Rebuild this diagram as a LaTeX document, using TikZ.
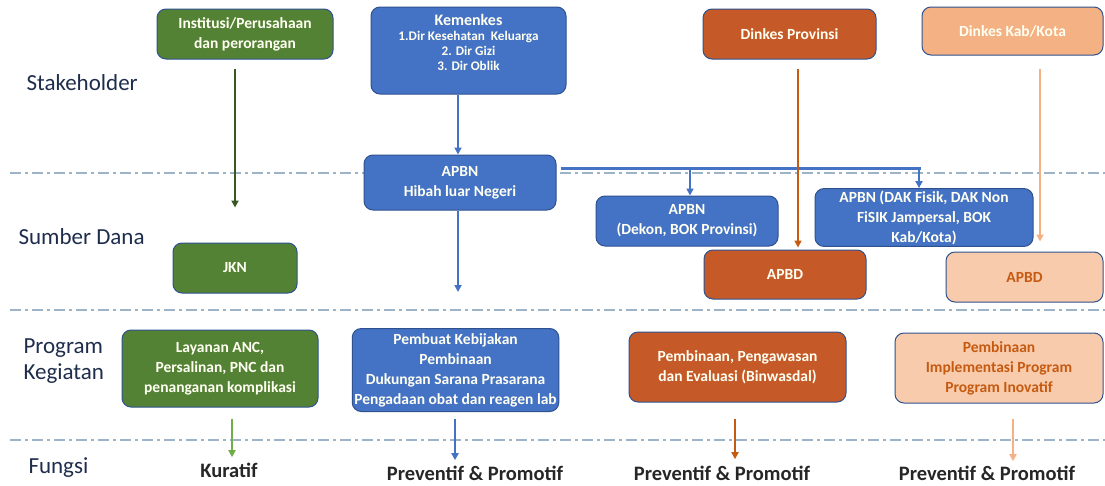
\documentclass[tikz,border=0pt]{standalone}
\usepackage{fontspec}
\setmainfont{Carlito}
\usetikzlibrary{arrows.meta}
\definecolor{cblue}{HTML}{4472C4}
\definecolor{cbord}{HTML}{2F528F}
\definecolor{cgreen}{HTML}{548235}
\definecolor{cdgreen}{HTML}{385723}
\definecolor{clgreen}{HTML}{70AD47}
\definecolor{corange}{HTML}{C55A28}
\definecolor{cdorange}{HTML}{C55A11}
\definecolor{cpeach}{HTML}{F4B183}
\definecolor{clpeach}{HTML}{F8CBAD}
\definecolor{cdash}{HTML}{9DB3C8}
\definecolor{cnavy}{HTML}{1F2D4D}
\definecolor{ctext}{HTML}{FFFFF2}
\newcommand{\kemsmall}{\fontsize{13.2}{15}\selectfont}
\tikzset{
  box/.style={draw=cbord, line width=1pt, rounded corners=9pt, align=center,
    inner sep=2pt, font=\fontsize{15.5}{20}\selectfont\bfseries, text=ctext},
  bluebox/.style={box, fill=cblue},
  greenbox/.style={box, fill=cgreen},
  orangebox/.style={box, fill=corange},
  peachbox/.style={box, fill=cpeach},
  lpeachbox/.style={box, fill=clpeach, text=cdorange},
  rowlabel/.style={anchor=west, align=left, text=cnavy, font=\fontsize{23}{26}\selectfont},
  fungsi/.style={font=\fontsize{20.5}{24}\selectfont\bfseries, text=black!85},
  sep/.style={cdash, line width=1.4pt, dash pattern=on 11pt off 4pt on 3pt off 4pt},
  arr/.style={line width=2pt, -{Triangle[length=7pt,width=7pt]}},
}
\begin{document}
\begin{tikzpicture}[x=1pt,y=-1pt]
\useasboundingbox (0,0) rectangle (1105,485);
\fill[white] (0,0) rectangle (1105,485);

% separators
\draw[sep] (10,173) -- (1105,173);
\draw[sep] (10,310) -- (1105,310);
\draw[sep] (10,440) -- (1105,440);

% row labels
\node[rowlabel] (lstake) at (23,83) {Stakeholder};
\node[rowlabel] (ldana) at (15,237) {Sumber Dana};
\node[rowlabel] (lprog) at (20,361) {Program\\Kegiatan};
\node[rowlabel] (lfung) at (25,468) {Fungsi};

% stakeholder boxes
\node[greenbox, minimum width=176pt, minimum height=50pt] (inst) at (245,34) {Institusi/Perusahaan\\dan perorangan};
\node[bluebox, minimum width=195pt, minimum height=87pt] (kem) at (468.5,50.5)
  {\kemsmall\begin{tabular}{@{}c@{}}
   \fontsize{16}{17}\selectfont Kemenkes\\
   \kemsmall 1.Dir Kesehatan\ \ Keluarga\\
   \kemsmall 2. Dir Gizi\\
   \kemsmall 3. Dir Oblik\\[12pt]
   \end{tabular}};
\node[orangebox, minimum width=173pt, minimum height=50pt] (prov) at (789.5,34) {Dinkes Provinsi};
\node[peachbox, minimum width=181pt, minimum height=48pt] (kab) at (1012.5,31) {Dinkes Kab/Kota};

% sumber dana boxes
\node[bluebox, minimum width=192pt, minimum height=55pt] (hibah) at (460,182.5) {APBN\\Hibah luar Negeri};
\node[greenbox, minimum width=124pt, minimum height=50pt] (jkn) at (235,268) {JKN};
\node[bluebox, minimum width=182pt, minimum height=50pt] (dekon) at (687,221) {APBN\\(Dekon, BOK Provinsi)};
\node[bluebox, minimum width=218pt, minimum height=51pt] (dak) at (924,217.5) {APBN (DAK Fisik, DAK Non\\FiSIK Jampersal, BOK\\Kab/Kota)};
\node[orangebox, minimum width=162pt, minimum height=49pt] (apbdp) at (785,274.5) {APBD};
\node[lpeachbox, minimum width=157pt, minimum height=50pt] (apbdk) at (1024.5,277) {APBD};

% program boxes
\node[greenbox, minimum width=196pt, minimum height=77pt] (layanan) at (220,368.5) {Layanan ANC,\\Persalinan, PNC dan\\penanganan komplikasi};
\node[bluebox, minimum width=205pt, minimum height=83pt, anchor=north] (pembuat) at (455.5,328)
  {Pembuat Kebijakan\\Pembinaan\\Dukungan Sarana Prasarana\\Pengadaan obat dan reagen lab};
\node[orangebox, minimum width=217pt, minimum height=70pt] (binwas) at (737.5,367) {Pembinaan, Pengawasan\\dan Evaluasi (Binwasdal)};
\node[lpeachbox, minimum width=208pt, minimum height=70pt] (inov) at (999,368) {Pembinaan\\Implementasi Program\\Program Inovatif};

% fungsi labels
\node[fungsi] (kur) at (229,470) {Kuratif};
\node[fungsi] (pp1) at (475,473) {Preventif \& Promotif};
\node[fungsi] (pp2) at (722,473) {Preventif \& Promotif};
\node[fungsi] (pp3) at (987,473) {Preventif \& Promotif};

% stakeholder -> dana arrows
\draw[arr, cdgreen, shorten <=9pt, shorten >=35pt] (inst.south -| jkn.north) -- (jkn.north);
\draw[arr, cblue] (kem.south -| 458,0) -- (hibah.north -| 458,0);
\draw[arr, cblue, shorten >=36pt] (hibah.south -| 458,0) -- (pembuat.north -| 458,0);

% APBN split
\coordinate (j1) at (690,168);
\coordinate (j2) at (919,168);
\draw[cblue, line width=3pt] ([xshift=4pt]hibah.east |- j1) -- ([xshift=2pt]j2);
\draw[arr, cblue] (j1) -- (j1 |- dekon.north);
\draw[arr, cblue] (j2) -- (j2 |- dak.north);

\draw[arr, cdorange, shorten <=9pt, shorten >=2pt] (prov.south -| 798,0) -- (apbdp.north -| 798,0);
\draw[arr, cpeach, shorten <=13pt, shorten >=10pt] (kab.south -| 1040,0) -- (apbdk.north -| 1040,0);

% program -> fungsi arrows
\draw[arr, clgreen, shorten <=11pt, shorten >=2pt] (layanan.south -| 232,0) -- (kur.north -| 232,0);
\draw[arr, cblue, shorten <=7pt, shorten >=2pt] (pembuat.south -| 455,0) -- (pp1.north -| 455,0);
\draw[arr, cdorange, shorten <=16pt, shorten >=3pt] (binwas.south -| 735,0) -- (pp2.north -| 735,0);
\draw[arr, cpeach, shorten <=15pt, shorten >=1pt] (inov.south -| 1013,0) -- (pp3.north -| 1013,0);
\end{tikzpicture}
\end{document}
